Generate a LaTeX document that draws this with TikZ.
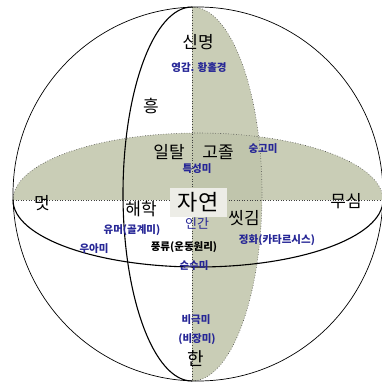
\documentclass[tikz,border=0pt]{standalone}
\usepackage{fontspec}
\setmainfont{Noto Sans CJK KR}
\usetikzlibrary{positioning}
\definecolor{sage}{RGB}{201,205,182}
\definecolor{sagedark}{RGB}{192,197,172}
\definecolor{paper}{RGB}{237,237,231}
\definecolor{ink}{RGB}{38,38,150}

\begin{document}
\begin{tikzpicture}[x=1pt, y=-1pt, every node/.style={inner sep=0pt},
  big/.style={font=\fontsize{17}{17}\selectfont},
  huge/.style={font=\fontsize{22}{22}\selectfont},
  tag/.style={font=\fontsize{10.5}{12}\selectfont\bfseries, text=ink, align=center},
  rim/.style={draw=black, line width=0.7pt},
  seam/.style={draw=black, line width=1.1pt},
  dots/.style={draw=black!75, dotted, line width=0.6pt}]
\useasboundingbox (0,0) rectangle (382,383);
\coordinate (north) at (192,7);
\coordinate (south) at (192,381);
\coordinate (west) at (13,200);
\coordinate (east) at (383,200);
\fill[sage] (west) arc[start angle=180, end angle=360, x radius=185, y radius=67] -- cycle;
\fill[sage] (north) arc[start angle=270, end angle=450, x radius=70, y radius=187] -- cycle;
\begin{scope}
\clip (west) arc[start angle=180, end angle=360, x radius=185, y radius=67] -- cycle;
\fill[sagedark] (north) arc[start angle=270, end angle=450, x radius=70, y radius=187] -- cycle;
\end{scope}
\draw[dots] (west) arc[start angle=180, end angle=360, x radius=185, y radius=67];
\draw[dots] (north) arc[start angle=270, end angle=450, x radius=70, y radius=187];
\draw[dots] (west) -- (east);
\draw[dots] (north) -- (south);
\draw[seam] (west) arc[start angle=180, end angle=0, x radius=185, y radius=67];
\draw[seam] (north) arc[start angle=270, end angle=90, x radius=69, y radius=187];
\draw[rim] (198,194) ellipse[x radius=185, y radius=187];
\node[big] (sinmyeong) at (198,42) {신명};
\node[tag] (yeonggam) at (199,68) {영감. 황홀경};
\node[big] (heung) at (151,106) {흥};
\node[big] (iltal) at (169,152) {일탈};
\node[big] (gojol) at (218,152) {고졸};
\node[tag] (sunggomi) at (263,149) {숭고미};
\node[tag] (teukseongmi) at (197,169) {특성미};
\node[huge, fill=paper, minimum width=57, minimum height=29] (jayeon) at (198,202) {자연};
\node[big] (meot) at (42,203) {멋};
\node[big] (musim) at (346,201) {무심};
\node[big] (haehak) at (141,209) {해학};
\node[big] (ssitgim) at (244,218) {씻김};
\node[tag, font=\fontsize{13}{13}\selectfont] (ingan) at (197,223) {인간};
\node[tag] (yumeo) at (132,230) {유머(골계미)};
\node[tag] (uami) at (94,249) {우아미};
\node[tag, text=black] (pungryu) at (184,247) {풍류(운동원리)};
\node[tag] (jeonghwa) at (277,240) {정화(카타르시스)};
\node[tag] (sunsumi) at (194,266) {순수미};
\node[tag] (bigeukmi) at (196,320) {비극미};
\node[tag] (bijangmi) at (197,339) {(비장미)};
\node[big, font=\fontsize{18}{18}\selectfont] (han) at (196,359) {한};
\end{tikzpicture}
\end{document}
